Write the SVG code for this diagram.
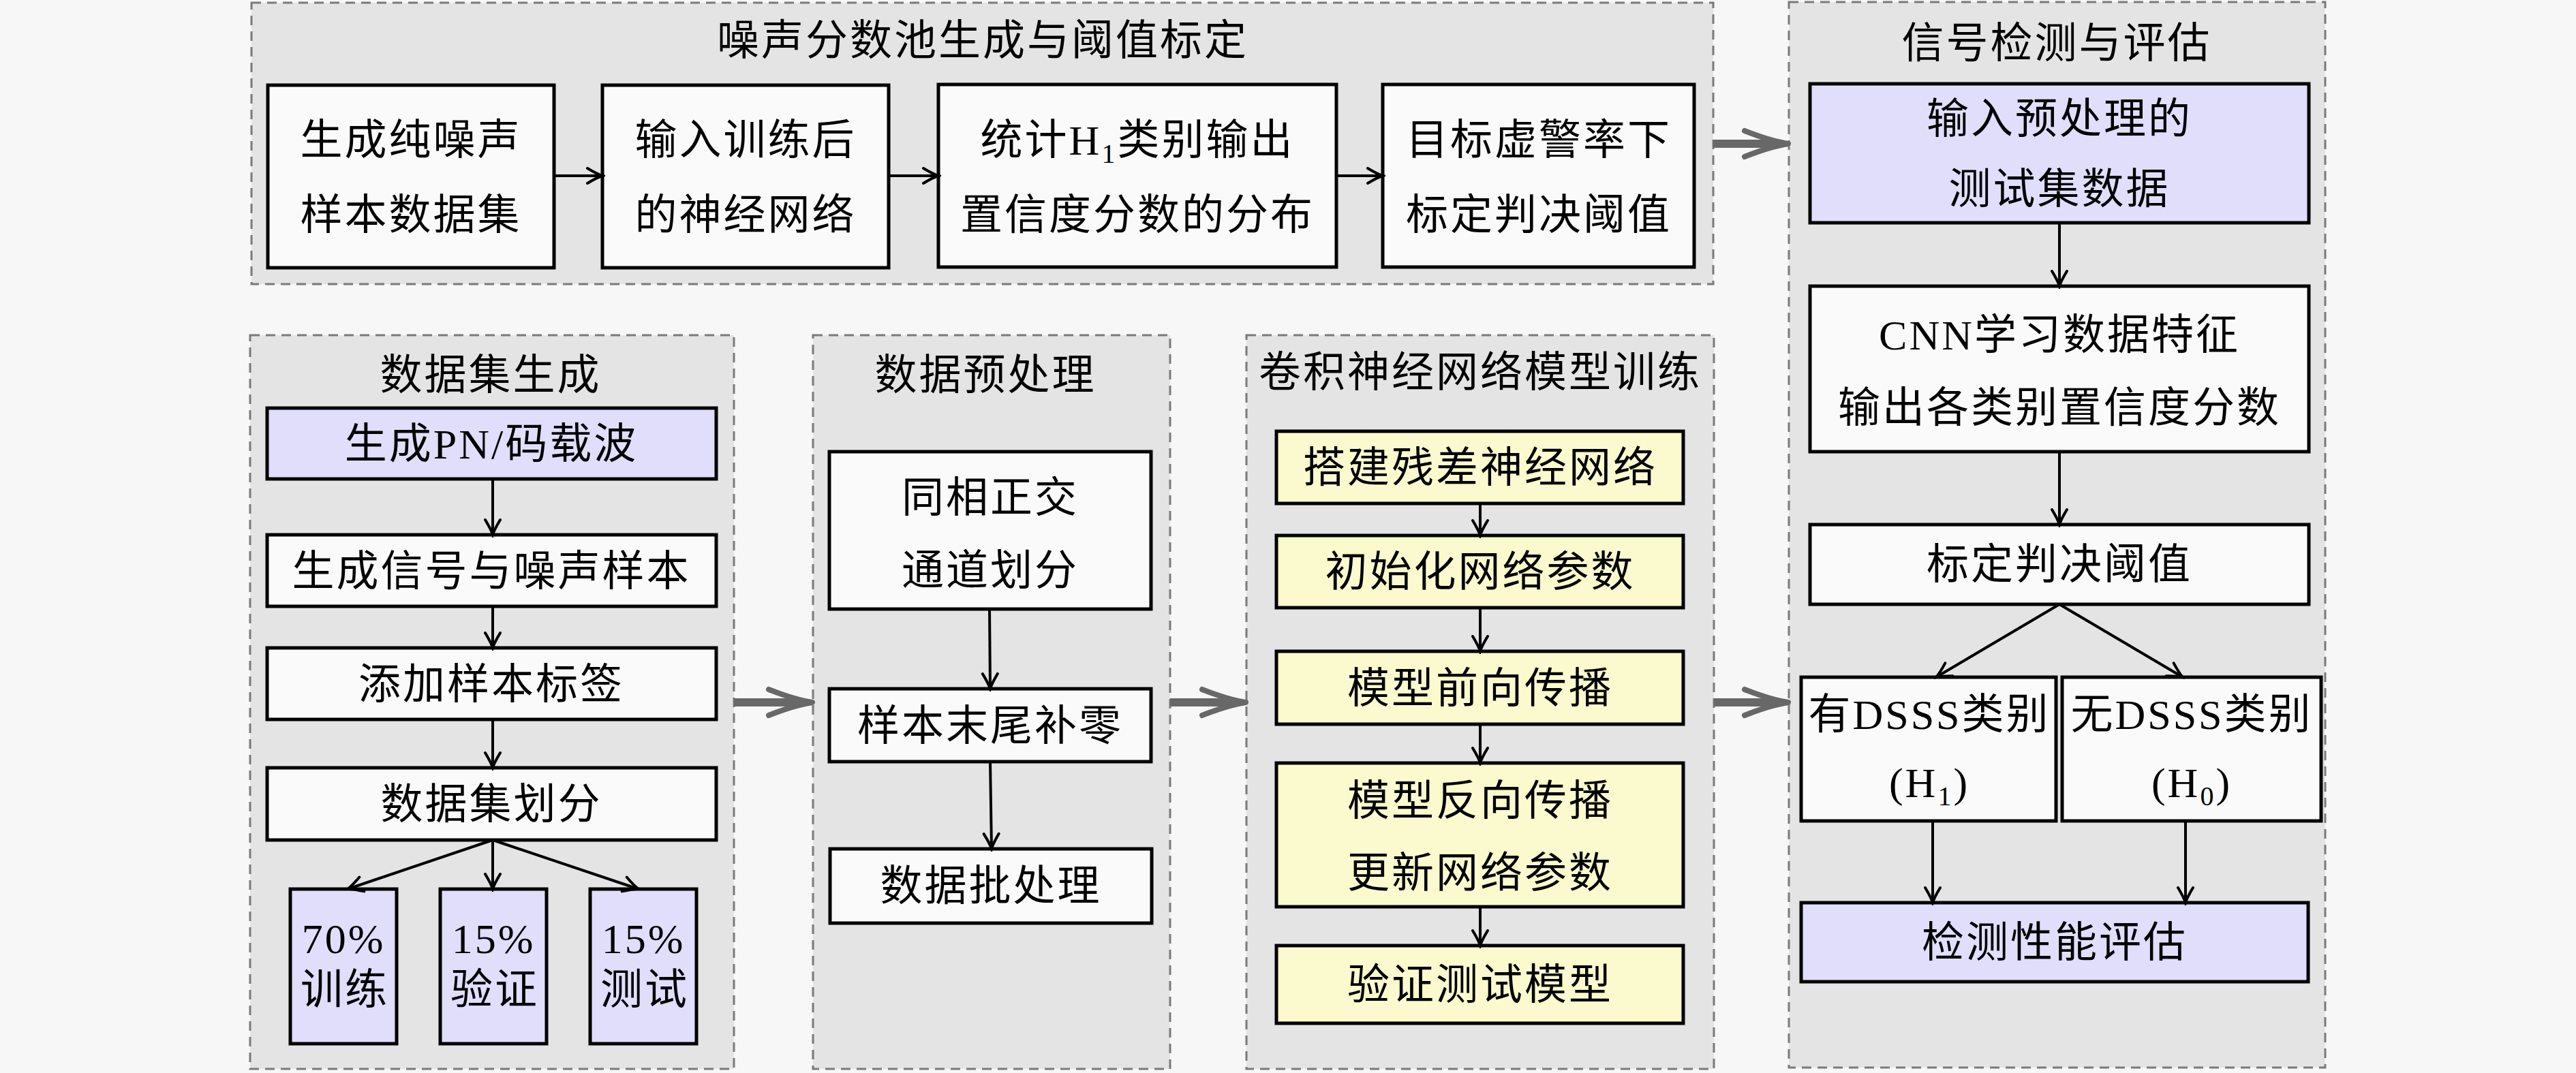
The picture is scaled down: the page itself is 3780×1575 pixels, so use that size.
<svg xmlns="http://www.w3.org/2000/svg" width="3780" height="1575" viewBox="0 0 3780 1575">
<defs>
<style>
.panel{fill:#E4E4E4;stroke:#7A7A7A;stroke-width:3;stroke-dasharray:14 9}
.box{stroke:#000;stroke-width:5}
.w{fill:#FAFAFA}
.lav{fill:#E1DEFC}
.yel{fill:#FAFACE}
.t{font-family:"Liberation Serif","Noto Sans CJK SC",serif;font-size:62px;text-anchor:middle;fill:#000;letter-spacing:3px}
.c{stroke:#000;stroke-width:4;fill:none;marker-end:url(#ah)}
.big{stroke:#686868;stroke-width:12;fill:none}
</style>
<marker id="ah" markerUnits="userSpaceOnUse" markerWidth="30" markerHeight="30" viewBox="-26 -15 30 30" refX="0" refY="0" orient="auto">
<path d="M-22,-11 Q-7,-2 0,0 Q-7,2 -22,11" fill="none" stroke="#000" stroke-width="4" stroke-linecap="round"/>
</marker>
<g id="bighead">
<path d="M-64,-19 Q-26,-4 0,0 Q-26,4 -64,19" fill="none" stroke="#686868" stroke-width="8" stroke-linecap="round" stroke-linejoin="round"/>
<path d="M-40,-7 L0,0 L-40,7 Z" fill="#686868"/>
</g>
</defs>
<rect x="0" y="0" width="3780" height="1575" fill="#F7F7F7"/>

<g id="panel-noise">
<rect class="panel" x="369" y="4" width="2145" height="413"/>
<text class="t" x="1442" y="81">噪声分数池生成与阈值标定</text>
</g>
<g id="panel-detect">
<rect class="panel" x="2625" y="3" width="787" height="1564"/>
<text class="t" x="3018" y="85">信号检测与评估</text>
</g>
<g id="panel-dataset">
<rect class="panel" x="367" y="492" width="710" height="1077"/>
<text class="t" x="720" y="572">数据集生成</text>
</g>
<g id="panel-preproc">
<rect class="panel" x="1193" y="492" width="524" height="1077"/>
<text class="t" x="1446" y="572">数据预处理</text>
</g>
<g id="panel-cnn">
<rect class="panel" x="1829" y="492" width="686" height="1077"/>
<text class="t" x="2172" y="568">卷积神经网络模型训练</text>
</g>

<!-- top row -->
<g id="n-noise-gen">
<rect class="box w" x="393" y="125" width="420" height="268"/>
<text class="t" x="603" y="227">生成纯噪声</text>
<text class="t" x="603" y="337">样本数据集</text>
</g>
<g id="n-input-net">
<rect class="box w" x="884" y="125" width="420" height="268"/>
<text class="t" x="1094" y="227">输入训练后</text>
<text class="t" x="1094" y="337">的神经网络</text>
</g>
<g id="n-stat">
<rect class="box w" x="1377" y="124" width="584" height="268"/>
<text class="t" x="1669" y="227">统计H<tspan font-size="40" dy="12">1</tspan><tspan dy="-12">类别输出</tspan></text>
<text class="t" x="1669" y="337">置信度分数的分布</text>
</g>
<g id="n-thresh-cal">
<rect class="box w" x="2029" y="124" width="457" height="268"/>
<text class="t" x="2258" y="227">目标虚警率下</text>
<text class="t" x="2258" y="337">标定判决阈值</text>
</g>

<!-- dataset panel -->
<g id="n-pn">
<rect class="box lav" x="392" y="599" width="659" height="104"/>
<text class="t" x="721" y="673">生成PN/码载波</text>
</g>
<g id="n-sig-noise">
<rect class="box w" x="392" y="785" width="659" height="105"/>
<text class="t" x="721" y="860">生成信号与噪声样本</text>
</g>
<g id="n-label">
<rect class="box w" x="392" y="951" width="659" height="105"/>
<text class="t" x="721" y="1026">添加样本标签</text>
</g>
<g id="n-split">
<rect class="box w" x="392" y="1127" width="659" height="106"/>
<text class="t" x="721" y="1202">数据集划分</text>
</g>
<g id="n-train">
<rect class="box lav" x="426" y="1305" width="156" height="227"/>
<text class="t" x="504" y="1399">70%</text>
<text class="t" x="506" y="1474">训练</text>
</g>
<g id="n-val">
<rect class="box lav" x="646" y="1305" width="156" height="227"/>
<text class="t" x="724" y="1399">15%</text>
<text class="t" x="726" y="1474">验证</text>
</g>
<g id="n-test">
<rect class="box lav" x="866" y="1305" width="156" height="227"/>
<text class="t" x="944" y="1399">15%</text>
<text class="t" x="946" y="1474">测试</text>
</g>

<!-- preprocessing panel -->
<g id="n-iq">
<rect class="box w" x="1217" y="663" width="472" height="231"/>
<text class="t" x="1453" y="752">同相正交</text>
<text class="t" x="1453" y="859">通道划分</text>
</g>
<g id="n-pad">
<rect class="box w" x="1217" y="1011" width="472" height="107"/>
<text class="t" x="1453" y="1087">样本末尾补零</text>
</g>
<g id="n-batch">
<rect class="box w" x="1218" y="1246" width="472" height="109"/>
<text class="t" x="1454" y="1322">数据批处理</text>
</g>

<!-- cnn panel -->
<g id="n-build">
<rect class="box yel" x="1873" y="633" width="597" height="106"/>
<text class="t" x="2172" y="708">搭建残差神经网络</text>
</g>
<g id="n-init">
<rect class="box yel" x="1873" y="786" width="597" height="106"/>
<text class="t" x="2172" y="861">初始化网络参数</text>
</g>
<g id="n-forward">
<rect class="box yel" x="1873" y="956" width="597" height="107"/>
<text class="t" x="2172" y="1032">模型前向传播</text>
</g>
<g id="n-backward">
<rect class="box yel" x="1873" y="1120" width="597" height="211"/>
<text class="t" x="2172" y="1197">模型反向传播</text>
<text class="t" x="2172" y="1303">更新网络参数</text>
</g>
<g id="n-verify">
<rect class="box yel" x="1873" y="1388" width="597" height="114"/>
<text class="t" x="2172" y="1467">验证测试模型</text>
</g>

<!-- detection panel -->
<g id="n-input-test">
<rect class="box lav" x="2656" y="123" width="732" height="204"/>
<text class="t" x="3022" y="196">输入预处理的</text>
<text class="t" x="3022" y="299">测试集数据</text>
</g>
<g id="n-cnn-learn">
<rect class="box w" x="2656" y="420" width="732" height="243"/>
<text class="t" x="3022" y="513">CNN学习数据特征</text>
<text class="t" x="3022" y="620">输出各类别置信度分数</text>
</g>
<g id="n-thresh">
<rect class="box w" x="2656" y="770" width="732" height="117"/>
<text class="t" x="3022" y="850">标定判决阈值</text>
</g>
<g id="n-h1">
<rect class="box w" x="2643" y="994" width="374" height="211"/>
<text class="t" x="2831" y="1070">有DSSS类别</text>
<text class="t" x="2831" y="1170">(H<tspan font-size="40" dy="12">1</tspan><tspan dy="-12">)</tspan></text>
</g>
<g id="n-h0">
<rect class="box w" x="3026" y="994" width="380" height="211"/>
<text class="t" x="3216" y="1070">无DSSS类别</text>
<text class="t" x="3216" y="1170">(H<tspan font-size="40" dy="12">0</tspan><tspan dy="-12">)</tspan></text>
</g>
<g id="n-eval">
<rect class="box lav" x="2643" y="1325" width="744" height="116"/>
<text class="t" x="3015" y="1405">检测性能评估</text>
</g>

<g id="connectors">
<path class="c" d="M813,258 H884"/>
<path class="c" d="M1304,258 H1377"/>
<path class="c" d="M1961,258 H2029"/>

<path class="c" d="M723,703 V785"/>
<path class="c" d="M723,890 V951"/>
<path class="c" d="M723,1056 V1127"/>
<path class="c" d="M723,1233 L510,1305"/>
<path class="c" d="M723,1233 V1305"/>
<path class="c" d="M723,1233 L937,1305"/>

<path class="c" d="M1452,894 L1453,1011"/>
<path class="c" d="M1453,1118 L1455,1246"/>

<path class="c" d="M2172,739 V786"/>
<path class="c" d="M2172,892 V956"/>
<path class="c" d="M2172,1063 V1120"/>
<path class="c" d="M2172,1331 V1388"/>

<path class="c" d="M3022,327 V420"/>
<path class="c" d="M3022,663 V770"/>
<path class="c" d="M3022,887 L2841,994"/>
<path class="c" d="M3022,887 L3203,994"/>
<path class="c" d="M2836,1205 V1325"/>
<path class="c" d="M3207,1205 V1325"/>

<path class="big" d="M2514,211 H2600"/>
<use href="#bighead" x="2624" y="211"/>
<path class="big" d="M1077,1031 H1168"/>
<use href="#bighead" x="1192" y="1031"/>
<path class="big" d="M1717,1031 H1804"/>
<use href="#bighead" x="1828" y="1031"/>
<path class="big" d="M2515,1031 H2600"/>
<use href="#bighead" x="2624" y="1031"/>
</g>
</svg>
